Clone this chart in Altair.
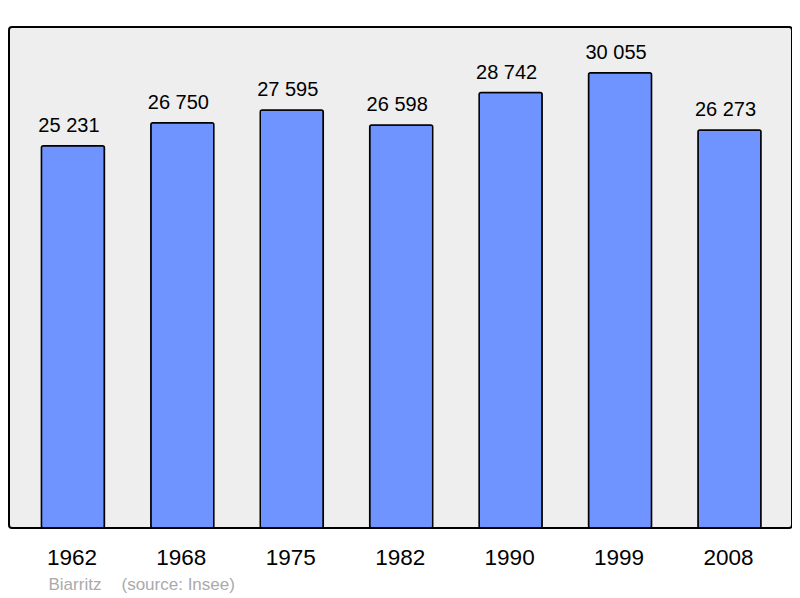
import altair as alt
import pandas as pd

years = ["1962", "1968", "1975", "1982", "1990", "1999", "2008"]
population = [25231, 26750, 27595, 26598, 28742, 30055, 26273]
labels = [f"{v:,}".replace(",", " ") for v in population]

df = pd.DataFrame({"year": years, "pop": population, "label": labels})

FONT = "Liberation Sans"

x = alt.X(
    "year:N",
    sort=years,
    title=None,
    scale=alt.Scale(range=[9.2, 775.2], paddingInner=0.424, paddingOuter=0.212),
    axis=alt.Axis(
        labelAngle=0,
        domain=False,
        ticks=False,
        tickSize=0,
        labelFontSize=22.5,
        labelFont=FONT,
        labelColor="#000000",
        labelBaseline="alphabetic",
        labelPadding=36,
        labelOffset=-1,
        grid=False,
    ),
)
y = alt.Y(
    "pop:Q",
    title=None,
    scale=alt.Scale(domain=[0, 33070], nice=False, zero=True),
    axis=None,
)

bars = alt.Chart(df).mark_bar(
    color="#7094FF", stroke="#000000", strokeWidth=1.5, cornerRadius=2
).encode(x=x, y=y)

values = alt.Chart(df).mark_text(
    font=FONT, fontSize=20, color="#000000", baseline="alphabetic", dy=-14, dx=-4
).encode(x=x, y=y, text="label:N")

src1 = alt.Chart(pd.DataFrame({"t": ["Biarritz"]})).mark_text(
    font=FONT, fontSize=17, color="#AAAAAA", align="left", baseline="alphabetic"
).encode(x=alt.value(39.5), y=alt.value(563), text="t:N")

src2 = alt.Chart(pd.DataFrame({"t": ["(source: Insee)"]})).mark_text(
    font=FONT, fontSize=17, color="#AAAAAA", align="left", baseline="alphabetic"
).encode(x=alt.value(112.5), y=alt.value(563), text="t:N")

chart = (
    alt.layer(bars, values, src1, src2)
    .properties(
        width=783,
        height=501,
        autosize=alt.AutoSizeParams(type="none"),
        padding={"left": 1, "top": 19, "right": 0, "bottom": 70},
        background="#FFFFFF",
    )
    .configure_view(fill="#EEEEEE", stroke="#000000", strokeWidth=2, cornerRadius=3)
)

chart.save("out.html", embed_options={"renderer": "svg", "actions": False})
